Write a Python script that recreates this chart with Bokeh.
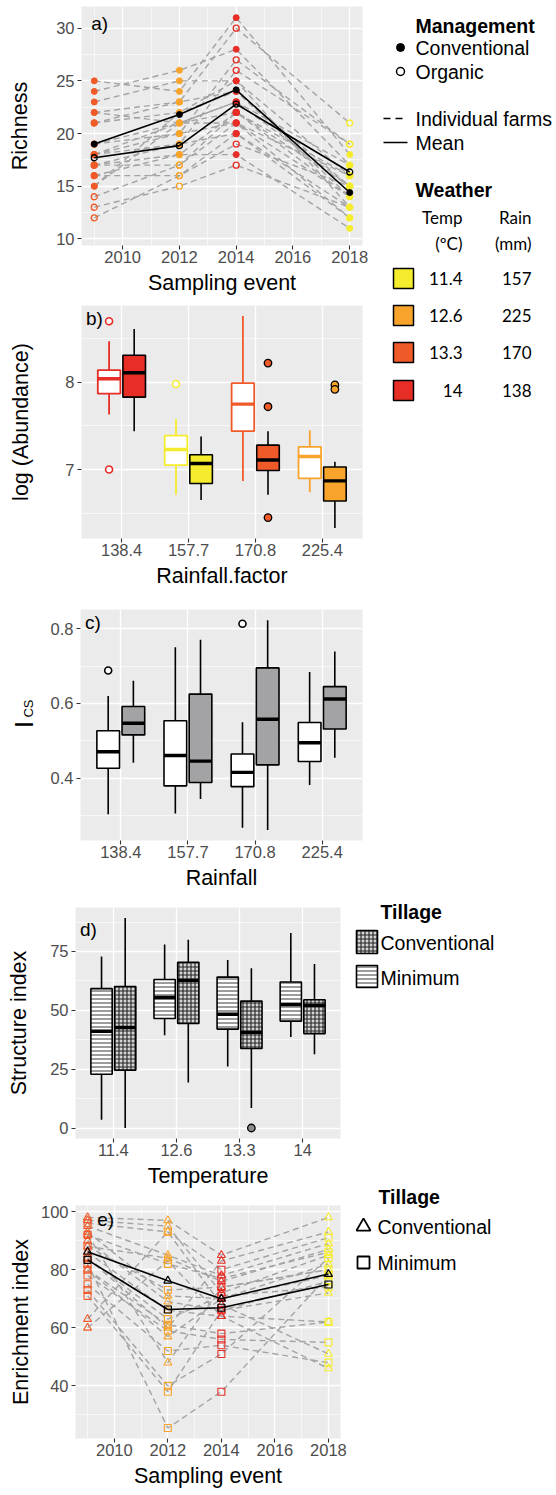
import numpy as np
from bokeh.plotting import figure
from bokeh.models import Range1d, FixedTicker, Label, ColumnDataSource
from bokeh.layouts import row, column
from bokeh.embed import file_html
from bokeh.resources import INLINE
from bokeh.core.properties import value

FONT = "Liberation Sans"
NUMFONT = "Lato"
BG = "#EBEBEB"
TICKC = "#4D4D4D"
FARMC = "#A3A3A3"

# ---------------- weather classes ----------------
temp_labels = ["11.4", "12.6", "13.3", "14"]
rain_labels = ["157", "225", "170", "138"]
weather_colors = ["#F5EC2E", "#F8A42C", "#F05A28", "#E62D26"]

# ---------------- a) richness ----------------
years = [2009, 2012, 2014, 2018]
year_colors = ["#F05A28", "#F8A42C", "#E62D26", "#F5EC2E"]
management_levels = ["Conventional", "Organic"]
line_levels = ["Individual farms", "Mean"]

rich_conv_2009 = [25, 24, 23, 22, 22, 21, 19, 18, 17, 16, 15, 15]
rich_conv_2012 = [24, 26, 25, 23, 21, 22, 21, 20, 19, 18, 22, 21]
rich_conv_2014 = [31, 28, 25, 24, 23, 25, 22, 21, 20, 18, 24, 21]
rich_conv_2018 = [18, 17, 16, 14, 15, 13, 14, 12, 13, 11, 15, 14]
rich_org_2009 = [21, 19, 18, 18, 17, 17, 16, 14, 13, 12]
rich_org_2012 = [23, 20, 19, 21, 18, 17, 16, 17, 15, 16]
rich_org_2014 = [30, 27, 26, 23, 22, 21, 19, 22, 17, 20]
rich_org_2018 = [21, 19, 19, 17, 16, 16, 15, 15, 13, 12]
rich_mean_conv = [19.0, 21.8, 24.15, 14.4]
rich_mean_org = [17.7, 18.85, 22.8, 16.35]

# ---------------- b) abundance ----------------
rain_factor = ["138.4", "157.7", "170.8", "225.4"]
rain_colors = ["#E62D26", "#F5EC2E", "#F05A28", "#F8A42C"]
abund_org_lo = [7.63, 6.71, 6.87, 6.74]
abund_org_q1 = [7.87, 7.05, 7.44, 6.90]
abund_org_med = [8.04, 7.23, 7.75, 7.15]
abund_org_q3 = [8.14, 7.39, 7.99, 7.26]
abund_org_hi = [8.47, 7.58, 8.76, 7.45]
abund_org_out_cat = ["138.4", "138.4", "157.7"]
abund_org_out_val = [8.70, 7.00, 7.98]
abund_conv_lo = [7.44, 6.65, 6.71, 6.33]
abund_conv_q1 = [7.83, 6.84, 6.99, 6.64]
abund_conv_med = [8.11, 7.07, 7.11, 6.87]
abund_conv_q3 = [8.31, 7.17, 7.28, 7.03]
abund_conv_hi = [8.61, 7.38, 7.44, 7.09]
abund_conv_out_cat = ["170.8", "170.8", "170.8", "225.4", "225.4"]
abund_conv_out_val = [8.22, 7.72, 6.45, 7.97, 7.92]

# ---------------- c) Ics ----------------
ics_title_main = "I"
ics_title_sub = "CS"
ics_white_lo = [0.304, 0.306, 0.268, 0.382]
ics_white_q1 = [0.427, 0.380, 0.378, 0.445]
ics_white_med = [0.471, 0.461, 0.416, 0.495]
ics_white_q3 = [0.527, 0.554, 0.465, 0.549]
ics_white_hi = [0.620, 0.750, 0.550, 0.684]
ics_white_out_cat = ["138.4", "170.8"]
ics_white_out_val = [0.688, 0.813]
ics_grey_lo = [0.442, 0.345, 0.262, 0.455]
ics_grey_q1 = [0.516, 0.389, 0.436, 0.532]
ics_grey_med = [0.547, 0.446, 0.558, 0.612]
ics_grey_q3 = [0.592, 0.625, 0.695, 0.645]
ics_grey_hi = [0.661, 0.770, 0.822, 0.739]

# ---------------- d) structure index ----------------
temperature = ["11.4", "12.6", "13.3", "14"]
tillage_levels = ["Conventional", "Minimum"]
si_min_lo = [3.5, 39.4, 26.1, 38.7]
si_min_q1 = [22.8, 46.5, 42.0, 45.4]
si_min_med = [41.1, 55.4, 48.3, 52.4]
si_min_q3 = [59.2, 63.1, 64.1, 62.0]
si_min_hi = [72.8, 77.9, 71.4, 82.8]
si_conv_lo = [0.0, 19.3, 8.5, 31.3]
si_conv_q1 = [24.6, 44.4, 33.8, 40.1]
si_conv_med = [42.7, 62.7, 40.6, 52.1]
si_conv_q3 = [60.1, 70.4, 53.9, 54.5]
si_conv_hi = [89.2, 80.0, 67.9, 69.7]
si_conv_out_cat = ["13.3"]
si_conv_out_val = [0.0]

# ---------------- e) enrichment index ----------------
ei_conv_2009 = [98, 97, 95, 93, 90, 88, 86, 84, 80, 63, 60, 92]
ei_conv_2012 = [97, 95, 85, 71, 69, 84, 66, 60, 57, 93, 83, 48]
ei_conv_2014 = [85, 72, 78, 70, 66, 76, 64, 83, 70, 68, 64, 74]
ei_conv_2018 = [98, 85, 89, 78, 72, 87, 62, 93, 82, 51, 46, 80]
ei_min_2009 = [96, 92, 88, 84, 80, 78, 75, 73, 71, 82]
ei_min_2012 = [93, 82, 73, 63, 61, 59, 52, 40, 38, 25.5]
ei_min_2014 = [80, 77, 74, 71, 58, 56, 54, 51, 66, 38]
ei_min_2018 = [91, 86, 80, 74, 62, 55, 48, 84, 76, 78]
ei_mean_conv = [86.2, 76.2, 70.0, 78.5]
ei_mean_min = [83.4, 66.3, 66.9, 74.9]


# ================= helpers =================
def make_panel(width, height, left, right, top, bottom, xr, yr):
    p = figure(width=width, height=height, x_range=Range1d(*xr), y_range=Range1d(*yr),
               output_backend="svg", toolbar_location=None,
               min_border_left=left, min_border_right=right,
               min_border_top=top, min_border_bottom=bottom,
               background_fill_color=BG, border_fill_color="white",
               outline_line_color=None)
    return p


def style(p, xt, xm, yt, ym, xlabel, ylabel, ystand, xover=None):
    xtk = FixedTicker(ticks=xt, minor_ticks=xm)
    ytk = FixedTicker(ticks=yt, minor_ticks=ym)
    p.xaxis.ticker = xtk
    p.yaxis.ticker = ytk
    p.xgrid.ticker = xtk
    p.ygrid.ticker = ytk
    for ax in p.axis:
        ax.axis_line_color = None
        ax.major_tick_line_color = "#333333"
        ax.major_tick_line_width = 1.1
        ax.major_tick_out = 4
        ax.major_tick_in = 0
        ax.minor_tick_line_color = None
        ax.major_label_text_font = FONT
        ax.major_label_text_font_size = "16.5px"
        ax.major_label_text_color = TICKC
        ax.axis_label_text_font = FONT
        ax.axis_label_text_font_size = "21.5px"
        ax.axis_label_text_font_style = "normal"
        ax.axis_label_text_color = "black"
    p.xaxis.major_label_standoff = 1
    p.yaxis.major_label_standoff = 3
    p.xaxis.axis_label = xlabel
    p.xaxis.axis_label_standoff = 5
    if ylabel:
        p.yaxis.axis_label = ylabel
        p.yaxis.axis_label_standoff = ystand
    if xover:
        p.xaxis.major_label_overrides = xover
    p.grid.grid_line_color = "white"
    p.grid.grid_line_width = 1.3
    p.grid.minor_grid_line_color = "white"
    p.grid.minor_grid_line_width = 0.6


def tag(p, x, y, s):
    p.add_layout(Label(x=x, y=y, text=s, text_font=FONT, text_font_size="19px",
                       text_baseline="middle", text_align="left", text_color="black"))


BW = 0.3375
DODGE = 0.1875


def boxes(p, xs, lo, q1, med, q3, hi, fill, line, medc, lw=1.6, hatch=None):
    src = ColumnDataSource(dict(x=xs, lo=lo, q1=q1, med=med, q3=q3, hi=hi,
                                fill=fill, line=line, medc=medc,
                                xl=[x - BW / 2 for x in xs], xr=[x + BW / 2 for x in xs]))
    p.segment(x0="x", y0="lo", x1="x", y1="q1", line_color="line", line_width=lw, source=src)
    p.segment(x0="x", y0="q3", x1="x", y1="hi", line_color="line", line_width=lw, source=src)
    kw = hatch or {}
    p.vbar(x="x", width=BW, bottom="q1", top="q3", fill_color="fill", line_color="line",
           line_width=lw, source=src, **kw)
    p.segment(x0="xl", y0="med", x1="xr", y1="med", line_color="medc", line_width=3.4, source=src)


def blank(width, height):
    p = figure(width=width, height=height, x_range=Range1d(0, width), y_range=Range1d(height, 0),
               output_backend="svg", toolbar_location=None, min_border=0,
               min_border_left=0, min_border_right=0, min_border_top=0, min_border_bottom=0,
               outline_line_color=None, x_axis_type=None, y_axis_type=None)
    p.grid.visible = False
    return p


def title_strip(height, top, bottom, text, size, standoff):
    """A narrow strip whose only content is a (rotated) y-axis title."""
    p = figure(width=41, height=height, x_range=Range1d(0, 1), y_range=Range1d(0, 1),
               output_backend="svg", toolbar_location=None,
               min_border_left=40, min_border_right=0, min_border_top=top,
               min_border_bottom=bottom, outline_line_color=None, x_axis_type=None)
    p.grid.visible = False
    ax = p.yaxis[0]
    ax.ticker = FixedTicker(ticks=[])
    ax.axis_line_color = None
    ax.major_tick_line_color = None
    ax.minor_tick_line_color = None
    ax.axis_label = text
    ax.axis_label_text_font = FONT
    ax.axis_label_text_font_size = size
    ax.axis_label_text_font_style = "normal"
    ax.axis_label_text_color = "black"
    ax.axis_label_standoff = standoff
    return p


def txt(p, x, y, s, size="19.5px", font=FONT, fstyle="normal", align="left",
        baseline="middle"):
    p.text(x=[x], y=[y], text=[s], text_font=value(font), text_font_size=value(size),
           text_font_style=fstyle, text_align=align, text_baseline=baseline,
           text_color="black")


cat_pos = {c: i + 1 for i, c in enumerate(rain_factor)}
temp_pos = {c: i + 1 for i, c in enumerate(temperature)}
left_x = [i + 1 - DODGE for i in range(4)]
right_x = [i + 1 + DODGE for i in range(4)]

# ================= panel a =================
pa = make_panel(372, 297, 81, 10, 6, 52, (2008.55, 2018.45), (9.37, 32.06))
style(pa, [2010, 2012, 2014, 2016, 2018], [2009, 2011, 2013, 2015, 2017],
      [10, 15, 20, 25, 30], [12.5, 17.5, 22.5, 27.5], "Sampling event", "Richness", 21)
conv_series = [rich_conv_2009, rich_conv_2012, rich_conv_2014, rich_conv_2018]
org_series = [rich_org_2009, rich_org_2012, rich_org_2014, rich_org_2018]
xs_l, ys_l = [], []
for series in (conv_series, org_series):
    for i in range(len(series[0])):
        xs_l.append(years)
        ys_l.append([s[i] for s in series])
pa.multi_line(xs_l, ys_l, line_color=FARMC, line_dash="6 4", line_width=1.4)
for yr, col, cv, ov in zip(years, year_colors, conv_series, org_series):
    pa.scatter([yr] * len(cv), cv, marker="circle", size=6, fill_color=col, line_color=col)
    pa.scatter([yr] * len(ov), ov, marker="circle", size=6, fill_color=None, line_color=col,
               line_width=1.3)
pa.line(years, rich_mean_conv, line_color="black", line_width=1.6)
pa.line(years, rich_mean_org, line_color="black", line_width=1.6)
pa.scatter(years, rich_mean_conv, marker="circle", size=6, fill_color="black", line_color="black")
pa.scatter(years, rich_mean_org, marker="circle", size=6, fill_color=None, line_color="black",
           line_width=1.3)
tag(pa, 2008.89, 30.47, "a)")

# ================= panel b =================
pb = make_panel(372, 293, 80, 10, 8, 52, (0.4, 4.6), (6.21, 8.88))
style(pb, [1, 2, 3, 4], [], [7, 8], [6.5, 7.5, 8.5], "Rainfall.factor", "log (Abundance)", 29,
      {i + 1: c for i, c in enumerate(rain_factor)})
boxes(pb, left_x, abund_org_lo, abund_org_q1, abund_org_med, abund_org_q3, abund_org_hi,
      ["white"] * 4, rain_colors, rain_colors, lw=1.8)
boxes(pb, right_x, abund_conv_lo, abund_conv_q1, abund_conv_med, abund_conv_q3, abund_conv_hi,
      rain_colors, ["black"] * 4, ["black"] * 4, lw=1.6)
pb.scatter([cat_pos[c] - DODGE for c in abund_org_out_cat], abund_org_out_val, marker="circle",
           size=7, fill_color="white",
           line_color=[rain_colors[cat_pos[c] - 1] for c in abund_org_out_cat], line_width=1.6)
pb.scatter([cat_pos[c] + DODGE for c in abund_conv_out_cat], abund_conv_out_val, marker="circle",
           size=7.5, fill_color=[rain_colors[cat_pos[c] - 1] for c in abund_conv_out_cat],
           line_color="black", line_width=1.3)
tag(pb, 0.467, 8.73, "b)")

# ================= panel c =================
pc = make_panel(331, 302, 39, 10, 19, 52, (0.4, 4.6), (0.234, 0.851))
style(pc, [1, 2, 3, 4], [], [0.4, 0.6, 0.8], [0.3, 0.5, 0.7], "Rainfall", None, 0,
      {i + 1: c for i, c in enumerate(rain_factor)})
boxes(pc, left_x, ics_white_lo, ics_white_q1, ics_white_med, ics_white_q3, ics_white_hi,
      ["white"] * 4, ["black"] * 4, ["black"] * 4, lw=1.6)
boxes(pc, right_x, ics_grey_lo, ics_grey_q1, ics_grey_med, ics_grey_q3, ics_grey_hi,
      ["#A3A3A5"] * 4, ["black"] * 4, ["black"] * 4, lw=1.6)
pc.scatter([cat_pos[c] - DODGE for c in ics_white_out_cat], ics_white_out_val, marker="circle",
           size=7, fill_color="white", line_color="black", line_width=1.6)
tag(pc, 0.467, 0.815, "c)")

# y title I_CS: subscript strip above (centred ~708 px), main letter strip below (~724 px)
strip_sub = title_strip(128, 108, 0, ics_title_sub, "13px", 5)
strip_main = title_strip(174, 0, 162, ics_title_main, "25px", 3)

# ================= panel d =================
HATCH_MIN = dict(hatch_pattern=value("horizontal_line"), hatch_color="#3a3a3a",
                 hatch_scale=4, hatch_weight=1.0)
HATCH_CONV = dict(hatch_pattern=value("cross"), hatch_color="#222222",
                  hatch_scale=4, hatch_weight=1.1)
pd_ = make_panel(350, 298, 75, 10, 15, 52, (0.4, 4.6), (-4.46, 93.66))
style(pd_, [1, 2, 3, 4], [], [0, 25, 50, 75], [12.5, 37.5, 62.5, 87.5], "Temperature",
      "Structure index", 16, {i + 1: c for i, c in enumerate(temperature)})
boxes(pd_, left_x, si_min_lo, si_min_q1, si_min_med, si_min_q3, si_min_hi,
      ["white"] * 4, ["black"] * 4, ["black"] * 4, lw=1.6, hatch=HATCH_MIN)
boxes(pd_, right_x, si_conv_lo, si_conv_q1, si_conv_med, si_conv_q3, si_conv_hi,
      ["#d4d4d4"] * 4, ["black"] * 4, ["black"] * 4, lw=1.6, hatch=HATCH_CONV)
pd_.scatter([temp_pos[c] + DODGE for c in si_conv_out_cat], si_conv_out_val, marker="circle",
            size=7.5, fill_color="#8c8c8c", line_color="black", line_width=1.3)
tag(pd_, 0.47, 84.5, "d)")

# ================= panel e =================
pe = make_panel(350, 300, 73, 10, 15, 52, (2008.55, 2018.45), (21.9, 102.1))
style(pe, [2010, 2012, 2014, 2016, 2018], [2009, 2011, 2013, 2015, 2017],
      [40, 60, 80, 100], [30, 50, 70, 90], "Sampling event", "Enrichment index", 5)
econv = [ei_conv_2009, ei_conv_2012, ei_conv_2014, ei_conv_2018]
emin = [ei_min_2009, ei_min_2012, ei_min_2014, ei_min_2018]
xs_l, ys_l = [], []
for series in (econv, emin):
    for i in range(len(series[0])):
        xs_l.append(years)
        ys_l.append([s[i] for s in series])
pe.multi_line(xs_l, ys_l, line_color=FARMC, line_dash="6 4", line_width=1.4)
for yr, col, cv, mv in zip(years, year_colors, econv, emin):
    pe.scatter([yr] * len(cv), cv, marker="triangle", size=8, fill_color=None, line_color=col,
               line_width=1.1)
    pe.scatter([yr] * len(mv), mv, marker="square", size=7, fill_color=None, line_color=col,
               line_width=1.1)
pe.line(years, ei_mean_conv, line_color="black", line_width=1.6)
pe.line(years, ei_mean_min, line_color="black", line_width=1.6)
pe.scatter(years, ei_mean_conv, marker="triangle", size=8, fill_color=None, line_color="black",
           line_width=1.2)
pe.scatter(years, ei_mean_min, marker="square", size=7, fill_color=None, line_color="black",
           line_width=1.2)
tag(pe, 2009.36, 97.4, "e)")

# ================= legend a/b =================
lab = blank(184, 590)
txt(lab, 43, 25, "Management", fstyle="bold")
lab.scatter([28], [47], marker="circle", size=8, fill_color="black", line_color="black")
lab.scatter([28], [71], marker="circle", size=8, fill_color=None, line_color="black", line_width=1.5)
txt(lab, 43, 47, management_levels[0])
txt(lab, 43, 71, management_levels[1])
lab.line([11, 35], [118, 118], line_color="black", line_width=1.5, line_dash="7 5")
lab.line([11, 35], [142, 142], line_color="black", line_width=1.5)
txt(lab, 43, 118, line_levels[0])
txt(lab, 43, 142, line_levels[1])
txt(lab, 43, 189, "Weather", fstyle="bold")
txt(lab, 90, 217, "Temp", size="17px", font=NUMFONT, align="right")
txt(lab, 90, 243, "(ºC)", size="17px", font=NUMFONT, align="right")
txt(lab, 159, 217, "Rain", size="17px", font=NUMFONT, align="right")
txt(lab, 159, 243, "(mm)", size="17px", font=NUMFONT, align="right")
sw_y = [278, 315, 352, 390]
lab.rect(x=[31] * 4, y=sw_y, width=20, height=20, fill_color=weather_colors,
         line_color="black", line_width=1.5)
lab.text(x=[90] * 4, y=sw_y, text=temp_labels, text_font=value(NUMFONT),
         text_font_size=value("17px"), text_align="right", text_baseline="middle",
         text_color="black")
lab.text(x=[159] * 4, y=sw_y, text=rain_labels, text_font=value(NUMFONT),
         text_font_size=value("17px"), text_align="right", text_baseline="middle",
         text_color="black")

# ================= legend d/e =================
lde = blank(206, 598)
txt(lde, 30, 19, "Tillage", fstyle="bold")
lde.rect(x=[16.5], y=[49.5], width=21, height=23, fill_color="#d4d4d4", line_color="black",
         line_width=1.6, **HATCH_CONV)
lde.rect(x=[16.5], y=[84], width=21, height=22, fill_color="white", line_color="black",
         line_width=1.6, **HATCH_MIN)
txt(lde, 30, 50, tillage_levels[0])
txt(lde, 30, 85, tillage_levels[1])
txt(lde, 28, 304, "Tillage", fstyle="bold")
lde.scatter([13], [334], marker="triangle", size=14, fill_color=None, line_color="black",
            line_width=1.8)
lde.scatter([13], [370], marker="square", size=12, fill_color=None, line_color="black",
            line_width=1.8)
txt(lde, 27, 334, tillage_levels[0])
txt(lde, 27, 370, tillage_levels[1])

layout = column(
    row(column(pa, pb), lab),
    row(column(strip_sub, strip_main), pc),
    row(column(pd_, pe), lde),
)

open("out.html", "w").write(file_html(layout, INLINE))
